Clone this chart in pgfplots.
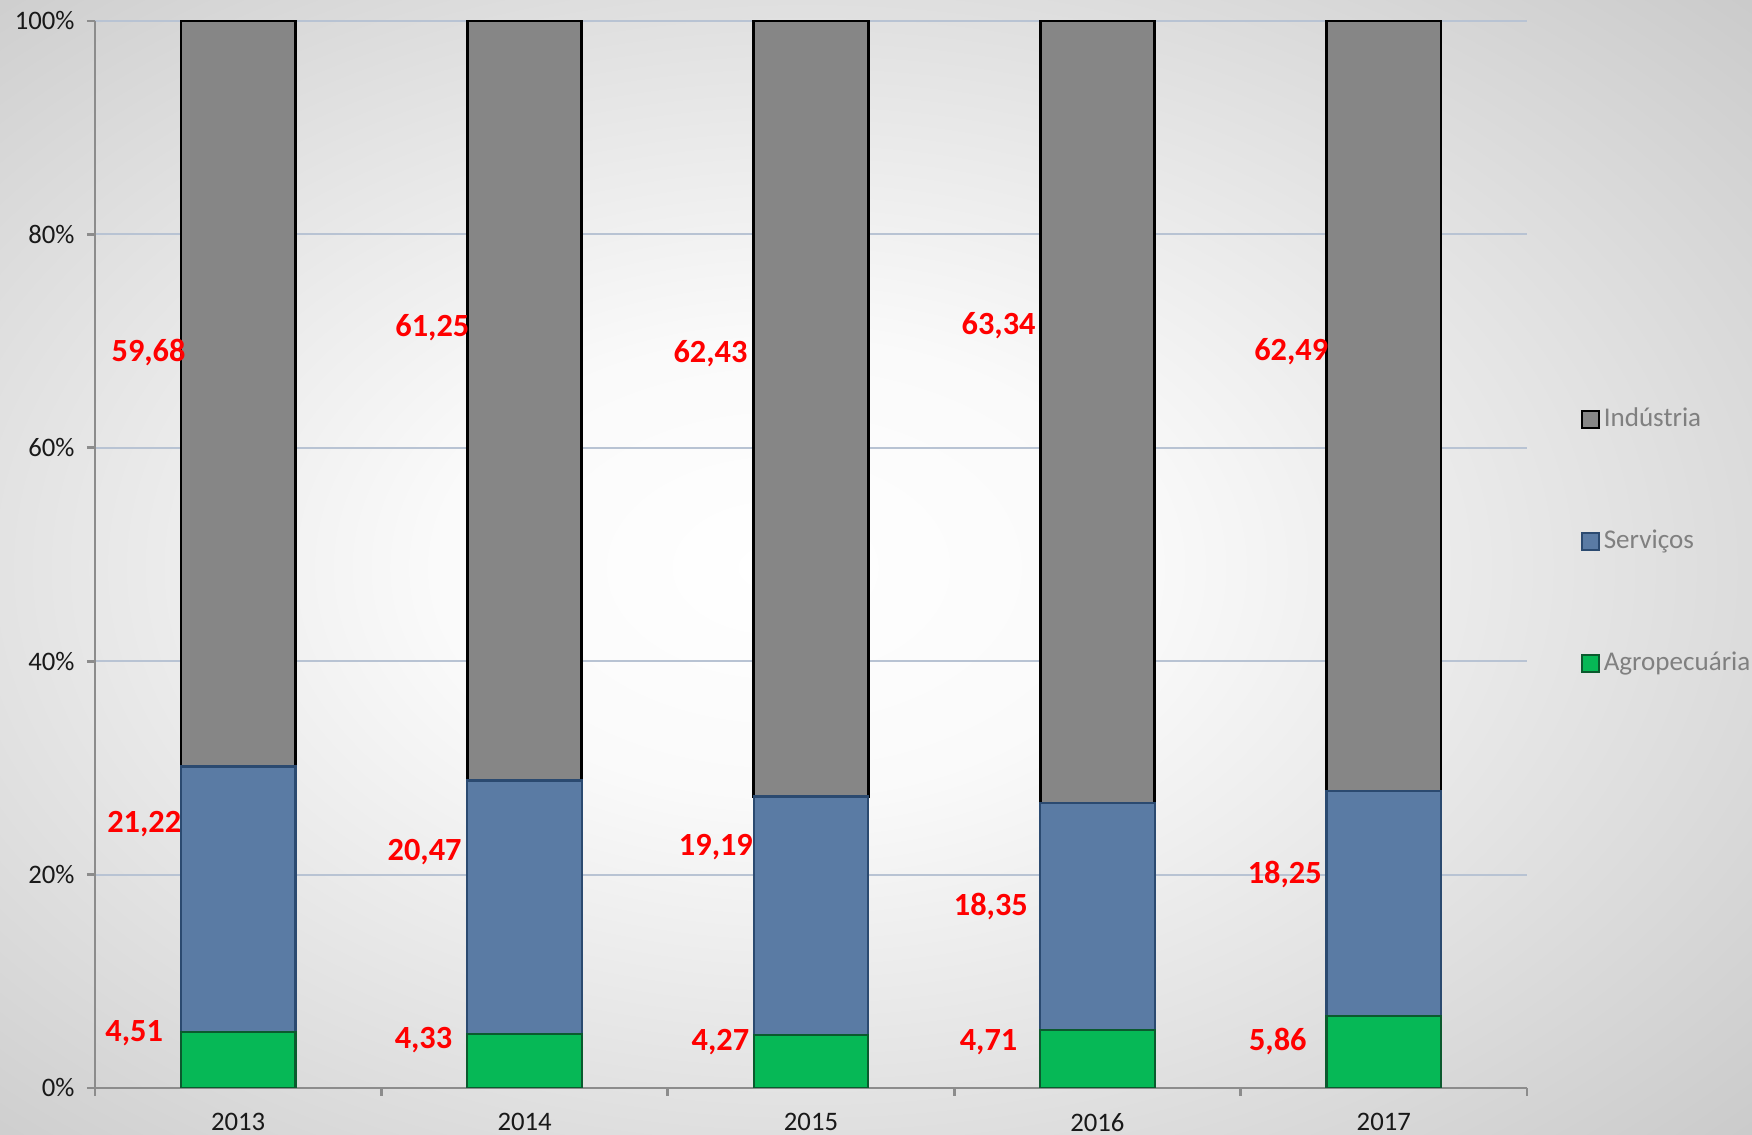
\documentclass[border=0pt]{standalone}
\usepackage{fontspec}
\setmainfont{Carlito}
\usepackage{pgfplots}
\pgfplotsset{compat=1.18}
\definecolor{indgray}{HTML}{868686}
\definecolor{servblue}{HTML}{5A7BA4}
\definecolor{servborder}{HTML}{2B4A70}
\definecolor{agrogreen}{HTML}{06B856}
\definecolor{agroborder}{HTML}{0B5A2E}
\definecolor{gridblue}{HTML}{B8C3D3}
\definecolor{axisgray}{HTML}{8C8C8C}
\pgfdeclareradialshading{bgshade}{\pgfpoint{-3bp}{0bp}}{color(0bp)=(white); color(10bp)=(white!98!black); color(50bp)=(black!30!white); color(72bp)=(black!40!white)}
\pgfplotsset{
  common/.style={
    width=14.32cm, height=10.67cm, scale only axis,
    xmin=-0.5, xmax=4.5, ymin=0, ymax=100,
  }
}
\begin{document}
\begin{tikzpicture}
\shade[shading=bgshade] (-0.95,-0.47) rectangle (16.57,10.88);
\begin{axis}[
  common,
  ybar stacked, bar width=0.4,
  axis x line*=bottom, axis y line*=left,
  axis line style={draw=axisgray, line width=0.8pt},
  xtick={0,1,2,3,4}, xticklabels={2013,2014,2015,2016,2017},
  major x tick style={draw=none},
  minor xtick={-0.5,0.5,1.5,2.5,3.5,4.5},
  ytick={0,20,40,60,80,100},
  yticklabels={0\%,20\%,40\%,60\%,80\%,100\%},
  tick align=outside, major tick length=0.08cm, minor tick length=0.08cm,
  every tick/.style={draw=axisgray, line width=0.8pt},
  ymajorgrids, grid style={draw=gridblue, line width=0.6pt},
  ticklabel style={font=\fontsize{7.6}{9}\selectfont, text=black!90},
  xticklabel style={yshift=-0.05cm},
  reverse legend,
  legend style={at={(axis description cs:1.037,0.512)}, anchor=west, draw=none, fill=none,
    font=\fontsize{7.7}{9}\selectfont, text=black!50, row sep=0.9cm, inner sep=0pt,
    nodes={inner sep=0.04cm}},
  legend cell align=left,
  legend image code/.code={\draw[#1, line width=0.6pt] (0cm,-0.085cm) rectangle (0.17cm,0.085cm);},
]
\addplot[fill=agrogreen, draw=agroborder, line width=0.6pt] coordinates {(0,5.2804) (1,5.0320) (2,4.9715) (3,5.4514) (4,6.7667)};
\addplot[fill=servblue, draw=servborder, line width=0.6pt] coordinates {(0,24.8449) (1,23.7885) (2,22.3425) (3,21.2384) (4,21.0739)};
\addplot[fill=indgray, draw=black, line width=0.8pt] coordinates {(0,69.8747) (1,71.1795) (2,72.6860) (3,73.3102) (4,72.1594)};
\legend{Agropecuária,Serviços,Indústria}
\end{axis}
\begin{axis}[common, hide axis]
\addplot[draw=none, mark=none,
  nodes near coords, point meta=explicit symbolic,
  every node near coord/.style={anchor=center, text=red, font=\fontsize{9.2}{10}\selectfont\bfseries}]
  table[meta=lab] {
x y lab
-0.313 68.9 59,68
-0.328 24.7 21,22
-0.363 5.1 4,51
0.678 71.3 61,25
0.651 22.1 20,47
0.647 4.5 4,33
1.649 68.8 62,43
1.668 22.6 19,19
1.684 4.3 4,27
2.655 71.4 63,34
2.628 17.0 18,35
2.620 4.3 4,71
3.677 69.0 62,49
3.654 20.0 18,25
3.630 4.4 5,86
};
\end{axis}
\pgfresetboundingbox
\path[use as bounding box] (-0.95,-0.47) rectangle (16.57,10.88);
\end{tikzpicture}
\end{document}
